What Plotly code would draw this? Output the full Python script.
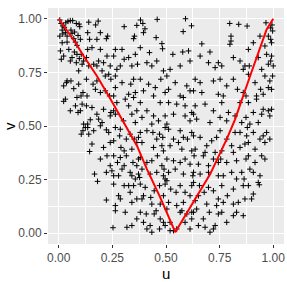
import plotly.graph_objects as go

# Scatter points (u, v), grouped by u-band
pts_col1 = [(0.005,0.994),(0.011,0.978),(0.02,0.966),(0.033,0.981),(0.043,0.988),(0.054,0.991),(0.065,0.991),
 (0.082,0.978),(0.095,0.975),(0.098,0.963),(0.016,0.947),(0.026,0.96),(0.057,0.947),(0.005,0.919),(0.019,0.929),
 (0.031,0.935),(0.039,0.919),(0.062,0.932),(0.074,0.938),(0.09,0.922),(0.101,0.904),(0.07,0.907),(0.016,0.888),
 (0.039,0.891),(0.078,0.891),(0.085,0.876),
 (0.008,0.85),(0.012,0.811),(0.023,0.826),(0.047,0.857),(0.085,0.834),(0.096,0.814),(0.105,0.834),(0.054,0.803),
 (0.082,0.795),(0.109,0.788),(0.093,0.757),(0.116,0.803),(0.062,0.819),(0.073,0.845),
 (0.023,0.687),(0.036,0.702),(0.057,0.71),(0.07,0.674),(0.093,0.695),(0.104,0.64),(0.113,0.656),(0.085,0.633),
 (0.031,0.625),(0.039,0.71),
 (0.023,0.615),(0.054,0.571),(0.078,0.594),(0.09,0.563),(0.101,0.571),(0.109,0.602),(0.116,0.509),(0.105,0.462),
 (0.113,0.478),(0.124,0.493)]

pts_col2 = [(0.14,0.984),(0.184,0.989),(0.172,0.971),(0.135,0.935),(0.178,0.904),(0.222,0.907),(0.144,0.904),
 (0.194,0.935),(0.228,0.919),
 (0.135,0.857),(0.129,0.819),(0.155,0.865),(0.194,0.857),(0.186,0.803),(0.209,0.795),(0.225,0.826),(0.163,0.788),
 (0.14,0.78),(0.202,0.757),(0.178,0.78),(0.24,0.78),
 (0.129,0.718),(0.16,0.695),(0.178,0.71),(0.217,0.733),(0.233,0.741),(0.243,0.718),(0.171,0.671),(0.132,0.64),
 (0.194,0.656),(0.217,0.664),(0.237,0.64),
 (0.129,0.594),(0.155,0.586),(0.178,0.555),(0.209,0.578),(0.186,0.532),(0.135,0.509),(0.147,0.529),(0.24,0.547),
 (0.202,0.516),(0.243,0.563),
 (0.135,0.493),(0.163,0.478),(0.194,0.501),(0.222,0.482),(0.233,0.47),(0.14,0.462),(0.144,0.381),(0.155,0.416),
 (0.209,0.4),(0.24,0.423),
 (0.167,0.276),(0.194,0.346),(0.225,0.361),(0.24,0.315),(0.222,0.284),(0.248,0.291),(0.181,0.242),(0.222,0.155)]

pts_col3 = [(0.305,0.963),(0.364,0.969),(0.353,0.919),(0.349,0.907),
 (0.264,0.857),(0.295,0.857),(0.305,0.811),(0.326,0.819),(0.357,0.834),(0.367,0.788),(0.256,0.826),(0.287,0.78),
 (0.341,0.78),(0.271,0.764),
 (0.264,0.733),(0.295,0.702),(0.336,0.695),(0.349,0.718),(0.264,0.679),(0.326,0.648),(0.357,0.656),(0.256,0.64),
 (0.349,0.633),
 (0.271,0.609),(0.31,0.625),(0.326,0.594),(0.341,0.555),(0.364,0.571),(0.264,0.555),(0.302,0.524),(0.357,0.516),
 (0.256,0.571),
 (0.264,0.493),(0.284,0.454),(0.315,0.439),(0.333,0.462),(0.352,0.439),(0.364,0.423),(0.256,0.431),(0.29,0.4),
 (0.305,0.384),(0.341,0.392),(0.372,0.447),(0.287,0.485),
 (0.256,0.361),(0.274,0.33),(0.287,0.353),(0.315,0.361),(0.305,0.315),(0.346,0.33),(0.364,0.315),(0.372,0.346),
 (0.295,0.299),(0.333,0.284),(0.279,0.268),(0.341,0.268),(0.357,0.253),(0.372,0.276),(0.256,0.268),
 (0.256,0.229),(0.279,0.175),(0.287,0.16),(0.305,0.222),(0.333,0.191),(0.341,0.144),(0.364,0.16),(0.264,0.129),
 (0.326,0.222),(0.349,0.222),
 (0.264,0.105),(0.253,0.026),(0.318,0.028),(0.341,0.036),(0.364,0.067),(0.31,0.098)]

pts_col4 = [(0.381,0.994),(0.392,0.978),(0.402,0.953),(0.459,0.997),(0.454,0.912),(0.395,0.935),
 (0.38,0.865),(0.423,0.842),(0.484,0.86),(0.481,0.884),(0.411,0.795),(0.434,0.78),(0.488,0.757),(0.457,0.803),
 (0.38,0.718),(0.419,0.695),(0.45,0.679),(0.476,0.718),(0.395,0.664),(0.442,0.64),(0.496,0.656),
 (0.38,0.609),(0.411,0.571),(0.442,0.547),(0.473,0.609),(0.496,0.547),(0.388,0.54),(0.465,0.524),(0.434,0.509),
 (0.38,0.47),(0.411,0.478),(0.439,0.47),(0.457,0.439),(0.47,0.462),(0.485,0.447),(0.496,0.493),(0.388,0.423),
 (0.442,0.4),(0.481,0.408),(0.488,0.384),
 (0.38,0.353),(0.411,0.33),(0.434,0.338),(0.46,0.361),(0.481,0.315),(0.491,0.299),(0.388,0.299),(0.426,0.276),
 (0.457,0.284),(0.488,0.268),(0.496,0.253),(0.377,0.26),
 (0.38,0.229),(0.403,0.214),(0.429,0.167),(0.445,0.198),(0.47,0.222),(0.488,0.175),(0.496,0.229),(0.388,0.16),
 (0.434,0.136),(0.473,0.136),(0.395,0.175),
 (0.38,0.098),(0.395,0.051),(0.411,0.02),(0.426,0.036),(0.445,0.09),(0.454,0.105),(0.473,0.067),(0.488,0.051),
 (0.496,0.036),(0.47,0.02),(0.434,0.005),(0.408,0.09)]

pts_col5 = [(0.591,1.0),(0.58,0.94),(0.619,0.967),
 (0.532,0.834),(0.578,0.845),(0.605,0.85),(0.566,0.78),(0.519,0.764),(0.612,0.803),
 (0.504,0.733),(0.543,0.702),(0.597,0.687),(0.612,0.664),(0.566,0.64),(0.581,0.633),(0.512,0.671),
 (0.512,0.609),(0.55,0.602),(0.589,0.594),(0.62,0.563),(0.535,0.555),(0.589,0.547),(0.612,0.524),(0.504,0.509),
 (0.512,0.485),(0.535,0.439),(0.566,0.478),(0.581,0.447),(0.6,0.439),(0.62,0.47),(0.519,0.408),(0.574,0.392),
 (0.62,0.384),(0.558,0.423),
 (0.504,0.346),(0.535,0.338),(0.566,0.33),(0.589,0.346),(0.612,0.322),(0.512,0.284),(0.543,0.299),(0.581,0.276),
 (0.625,0.268),
 (0.504,0.245),(0.522,0.206),(0.547,0.191),(0.566,0.222),(0.581,0.144),(0.589,0.191),(0.612,0.175),(0.512,0.144),
 (0.55,0.129),(0.62,0.222),
 (0.504,0.113),(0.519,0.051),(0.535,0.012),(0.55,0.02),(0.566,0.098),(0.574,0.105),(0.589,0.051),(0.612,0.02),
 (0.62,0.067),(0.519,0.012),(0.597,0.09),(0.62,0.098)]

pts_col6 = [(0.667,0.883),
 (0.705,0.845),(0.659,0.826),(0.698,0.795),(0.729,0.772),(0.744,0.795),
 (0.636,0.718),(0.659,0.702),(0.721,0.71),(0.667,0.656),(0.744,0.648),(0.628,0.664),
 (0.636,0.594),(0.682,0.602),(0.721,0.571),(0.643,0.532),(0.705,0.516),(0.628,0.555),
 (0.628,0.454),(0.659,0.447),(0.69,0.408),(0.713,0.431),(0.736,0.447),(0.636,0.392),(0.682,0.377),(0.729,0.377),
 (0.631,0.361),(0.651,0.322),(0.674,0.361),(0.698,0.315),(0.721,0.346),(0.744,0.33),(0.628,0.284),(0.659,0.276),
 (0.698,0.284),(0.744,0.268),
 (0.628,0.237),(0.656,0.222),(0.678,0.191),(0.698,0.214),(0.721,0.198),(0.744,0.16),(0.636,0.152),(0.69,0.136),
 (0.736,0.129),(0.651,0.175),
 (0.628,0.098),(0.651,0.036),(0.674,0.067),(0.702,0.098),(0.721,0.02),(0.744,0.09),(0.643,0.113),(0.682,0.028),
 (0.705,0.005),(0.729,0.036)]

pts_col7 = [(0.797,0.978),(0.839,0.974),(0.803,0.919),(0.803,0.896),(0.798,0.881),
 (0.814,0.819),(0.845,0.803),(0.868,0.78),(0.86,0.764),(0.76,0.78),
 (0.752,0.718),(0.783,0.687),(0.814,0.718),(0.833,0.671),(0.86,0.656),(0.873,0.64),(0.767,0.64),
 (0.76,0.609),(0.791,0.563),(0.822,0.547),(0.845,0.609),(0.873,0.54),(0.783,0.524),(0.853,0.516),(0.752,0.54),
 (0.752,0.478),(0.783,0.439),(0.806,0.408),(0.822,0.47),(0.845,0.4),(0.868,0.416),(0.876,0.454),(0.76,0.384),
 (0.814,0.377),(0.845,0.47),
 (0.755,0.346),(0.783,0.33),(0.806,0.284),(0.829,0.338),(0.853,0.284),(0.864,0.253),(0.873,0.346),(0.767,0.268),
 (0.829,0.253),
 (0.76,0.222),(0.786,0.175),(0.814,0.206),(0.837,0.144),(0.86,0.222),(0.868,0.16),(0.767,0.144),(0.814,0.136),
 (0.76,0.098),(0.783,0.051),(0.814,0.082),(0.829,0.098),(0.86,0.082)]

pts_col8 = [(0.878,0.966),(0.966,0.981),(0.988,0.957),(0.994,0.971),(0.997,0.943),(0.977,0.919),(0.988,0.904),
 (0.992,0.888),(0.938,0.919),(0.907,0.888),
 (0.884,0.857),(0.961,0.873),(0.992,0.826),(0.988,0.803),(0.977,0.788),(1.0,0.78),(0.93,0.819),(0.969,0.834),
 (0.888,0.78),(0.946,0.764),
 (0.884,0.741),(0.915,0.702),(0.941,0.671),(0.953,0.648),(0.984,0.71),(0.997,0.733),(0.977,0.679),(0.922,0.64),
 (0.961,0.733),(0.992,0.671),
 (0.884,0.609),(0.907,0.563),(0.922,0.625),(0.953,0.578),(0.977,0.571),(0.984,0.547),(0.992,0.578),(0.93,0.516),
 (0.891,0.509),(0.946,0.555),
 (0.879,0.493),(0.907,0.47),(0.938,0.439),(0.953,0.454),(0.884,0.423),(0.915,0.392),(0.961,0.423),(0.969,0.47),
 (0.984,0.439),
 (0.884,0.361),(0.915,0.33),(0.946,0.361),(0.961,0.346),(0.907,0.284),(0.938,0.268),(0.891,0.299),
 (0.884,0.222),(0.899,0.16),(0.93,0.237),(0.935,0.226),(0.907,0.183)]

# Red curve through the data
line_u = [0.0, 0.078, 0.116, 0.178, 0.233, 0.302, 0.365, 0.411, 0.473, 0.543,
          0.628, 0.706, 0.783, 0.822, 0.892, 0.938, 0.969, 1.0]
line_v = [1.0, 0.888, 0.826, 0.733, 0.64, 0.516, 0.407, 0.299, 0.167, 0.005,
          0.144, 0.276, 0.439, 0.531, 0.733, 0.857, 0.95, 1.0]

tick_vals = [0, 0.25, 0.5, 0.75, 1.0]
tick_text = ["0.00", "0.25", "0.50", "0.75", "1.00"]
minor_vals = [0.125, 0.375, 0.625, 0.875]

all_pts = pts_col1 + pts_col2 + pts_col3 + pts_col4 + pts_col5 + pts_col6 + pts_col7 + pts_col8
u = [p[0] for p in all_pts]
v = [p[1] for p in all_pts]

FONT = "Liberation Sans, Arial, sans-serif"

fig = go.Figure()
fig.add_trace(go.Scatter(x=u, y=v, mode="markers",
                         marker=dict(symbol="cross-thin", size=4, color="black",
                                     line=dict(width=1, color="black")),
                         showlegend=False, hoverinfo="skip"))
fig.add_trace(go.Scatter(x=line_u, y=line_v, mode="lines",
                         line=dict(color="#FF0000", width=2),
                         showlegend=False, hoverinfo="skip"))

axis_common = dict(
    range=[-0.05, 1.05], tickvals=tick_vals, ticktext=tick_text,
    showgrid=True, gridcolor="white", gridwidth=1.1,
    minor=dict(tickvals=minor_vals, showgrid=True, gridcolor="white", gridwidth=0.5, ticks=""),
    ticks="outside", ticklen=3, tickcolor="#333333", tickwidth=1,
    tickfont=dict(family=FONT, size=12, color="#4D4D4D"),
    zeroline=False, showline=False, automargin=False,
)

fig.update_layout(
    width=287, height=282,
    margin=dict(l=48, r=3, t=8, b=38),
    paper_bgcolor="white", plot_bgcolor="#EBEBEB",
    xaxis=dict(**axis_common),
    yaxis=dict(**axis_common),
    annotations=[
        dict(text="u", xref="paper", yref="paper", x=0.5, y=-0.127,
             xanchor="center", yanchor="middle", showarrow=False,
             font=dict(family=FONT, size=15, color="black")),
        dict(text="v", xref="paper", yref="paper", x=-0.165, y=0.5,
             xanchor="center", yanchor="middle", showarrow=False, textangle=-90,
             font=dict(family=FONT, size=15, color="black")),
    ],
)

fig.write_html("out.html", config={"displayModeBar": False},
               post_script="document.body.style.margin='0';document.body.style.padding='0';")
